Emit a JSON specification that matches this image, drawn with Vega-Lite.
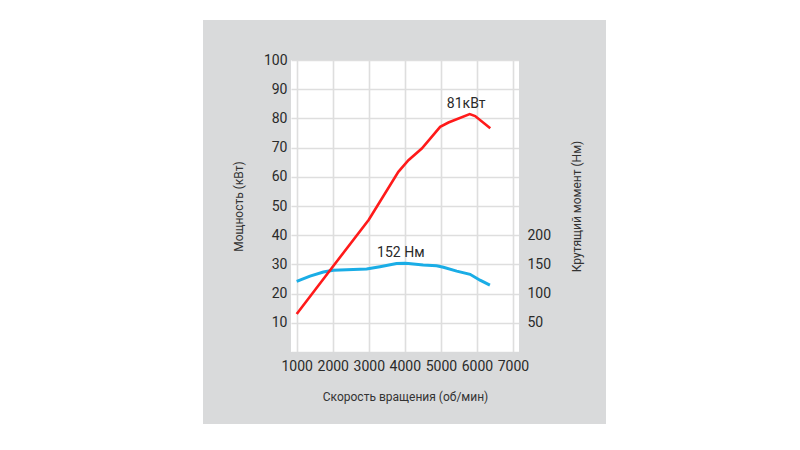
{
  "$schema": "https://vega.github.io/schema/vega-lite/v6.json",
  "width": 228,
  "height": 292,
  "autosize": "none",
  "padding": {"left": 291, "top": 60, "right": 281, "bottom": 98},
  "background": "white",
  "config": {
    "view": {"stroke": null, "fill": "white"},
    "font": "Roboto",
    "axis": {
      "domain": false,
      "ticks": false,
      "tickSize": 0,
      "grid": false,
      "labelFont": "Roboto",
      "labelFontSize": 14,
      "labelColor": "#2a2a2a",
      "labelFlush": false,
      "labelOverlap": false,
      "titleFont": "Roboto",
      "titleFontSize": 12,
      "titleFontWeight": "normal",
      "titleColor": "#333333",
      "gridColor": "#dedede",
      "gridWidth": 1.6
    },
    "text": {"font": "Roboto", "fontSize": 14, "color": "#2a2a2a"}
  },
  "datasets": {
    "power": [
      {"rpm": 1000, "kw": 13},
      {"rpm": 2000, "kw": 29.2},
      {"rpm": 3000, "kw": 45.3},
      {"rpm": 3820, "kw": 61.7},
      {"rpm": 4100, "kw": 65.7},
      {"rpm": 4470, "kw": 69.7},
      {"rpm": 4980, "kw": 77.1},
      {"rpm": 5210, "kw": 78.6},
      {"rpm": 5800, "kw": 81.5},
      {"rpm": 5950, "kw": 80.8},
      {"rpm": 6370, "kw": 76.6}
    ],
    "torque": [
      {"rpm": 1000, "nm": 121},
      {"rpm": 1370, "nm": 130},
      {"rpm": 1740, "nm": 137},
      {"rpm": 2015, "nm": 140},
      {"rpm": 2940, "nm": 142},
      {"rpm": 3310, "nm": 146},
      {"rpm": 3770, "nm": 151.5},
      {"rpm": 4000, "nm": 152},
      {"rpm": 4100, "nm": 151.5},
      {"rpm": 4510, "nm": 149},
      {"rpm": 4880, "nm": 147.5},
      {"rpm": 5070, "nm": 145},
      {"rpm": 5440, "nm": 138.5},
      {"rpm": 5810, "nm": 133},
      {"rpm": 6085, "nm": 123},
      {"rpm": 6360, "nm": 114.5}
    ]
  },
  "layer": [
    {
      "data": {"values": [{}]},
      "mark": {"type": "rect", "color": "#d9dadb", "clip": false},
      "encoding": {
        "x": {"datum": -1599, "type": "quantitative", "scale": {"domain": [842, 7167], "nice": false, "zero": false}, "axis": null},
        "x2": {"datum": 9580},
        "y": {"datum": 100, "type": "quantitative", "scale": {"domain": [0, 100], "nice": false}, "axis": null},
        "y2": {"datum": 113.7}
      }
    },
    {
      "data": {"values": [{}]},
      "mark": {"type": "rect", "color": "#d9dadb", "clip": false},
      "encoding": {
        "x": {"datum": -1599, "type": "quantitative", "scale": {"domain": [842, 7167], "nice": false, "zero": false}, "axis": null},
        "x2": {"datum": 9580},
        "y": {"datum": -24.7, "type": "quantitative", "scale": {"domain": [0, 100], "nice": false}, "axis": null},
        "y2": {"datum": 0}
      }
    },
    {
      "data": {"values": [{}]},
      "mark": {"type": "rect", "color": "#d9dadb", "clip": false},
      "encoding": {
        "x": {"datum": -1599, "type": "quantitative", "scale": {"domain": [842, 7167], "nice": false, "zero": false}, "axis": null},
        "x2": {"datum": 842},
        "y": {"datum": -1, "type": "quantitative", "scale": {"domain": [0, 100], "nice": false}, "axis": null},
        "y2": {"datum": 101}
      }
    },
    {
      "data": {"values": [{}]},
      "mark": {"type": "rect", "color": "#d9dadb", "clip": false},
      "encoding": {
        "x": {"datum": 7167, "type": "quantitative", "scale": {"domain": [842, 7167], "nice": false, "zero": false}, "axis": null},
        "x2": {"datum": 9580},
        "y": {"datum": -1, "type": "quantitative", "scale": {"domain": [0, 100], "nice": false}, "axis": null},
        "y2": {"datum": 101}
      }
    },
    {
      "data": {"name": "torque"},
      "mark": {"type": "line", "color": "#1aade6", "strokeWidth": 3},
      "encoding": {
        "x": {"field": "rpm", "type": "quantitative", "scale": {"domain": [842, 7167], "nice": false, "zero": false}, "axis": null},
        "y": {
          "field": "nm", "type": "quantitative",
          "scale": {"domain": [0, 500], "nice": false},
          "axis": {
            "orient": "right",
            "values": [50, 100, 150, 200],
            "labelPadding": 8,
            "title": "Крутящий момент (Нм)",
            "titleAngle": 270,
            "titleBaseline": "middle",
            "titleX": 57,
            "zindex": 1
          }
        }
      }
    },
    {
      "data": {"name": "torque"},
      "transform": [{"filter": "datum.rpm == 4000"}],
      "mark": {"type": "text", "text": "152 Нм", "dx": -4, "dy": -10.5},
      "encoding": {
        "x": {"field": "rpm", "type": "quantitative", "scale": {"domain": [842, 7167], "nice": false, "zero": false}, "axis": null},
        "y": {"field": "nm", "type": "quantitative", "scale": {"domain": [0, 500], "nice": false}, "axis": null}
      }
    },
    {
      "data": {"name": "power"},
      "mark": {"type": "line", "color": "#ff1a1a", "strokeWidth": 2.6},
      "encoding": {
        "x": {
          "field": "rpm", "type": "quantitative",
          "scale": {"domain": [842, 7167], "nice": false, "zero": false},
          "axis": {"orient": "bottom", "grid": true, "labels": false, "title": null, "values": [1000, 2000, 3000, 4000, 5000, 6000, 7000], "zindex": 0}
        },
        "y": {
          "field": "kw", "type": "quantitative",
          "scale": {"domain": [0, 100], "nice": false},
          "axis": {"orient": "left", "grid": true, "labels": false, "title": null, "values": [0, 10, 20, 30, 40, 50, 60, 70, 80, 90, 100], "zindex": 0}
        }
      }
    },
    {
      "data": {"name": "power"},
      "transform": [{"filter": "datum.rpm == 5800"}],
      "mark": {"type": "text", "text": "81кВт", "dx": -3.5, "dy": -10},
      "encoding": {
        "x": {
          "field": "rpm", "type": "quantitative",
          "scale": {"domain": [842, 7167], "nice": false, "zero": false},
          "axis": {
            "orient": "bottom",
            "values": [1000, 2000, 3000, 4000, 5000, 6000, 7000],
            "format": "d",
            "labelPadding": 7,
            "title": "Скорость вращения (об/мин)",
            "titleBaseline": "middle",
            "titleY": 44,
            "zindex": 1
          }
        },
        "y": {
          "field": "kw", "type": "quantitative",
          "scale": {"domain": [0, 100], "nice": false},
          "axis": {
            "orient": "left",
            "values": [10, 20, 30, 40, 50, 60, 70, 80, 90, 100],
            "labelPadding": 4,
            "title": "Мощность (кВт)",
            "titleAngle": 270,
            "titleBaseline": "middle",
            "titleX": -53,
            "zindex": 1
          }
        }
      }
    }
  ],
  "resolve": {"scale": {"y": "independent"}, "axis": {"x": "independent", "y": "independent"}}
}
